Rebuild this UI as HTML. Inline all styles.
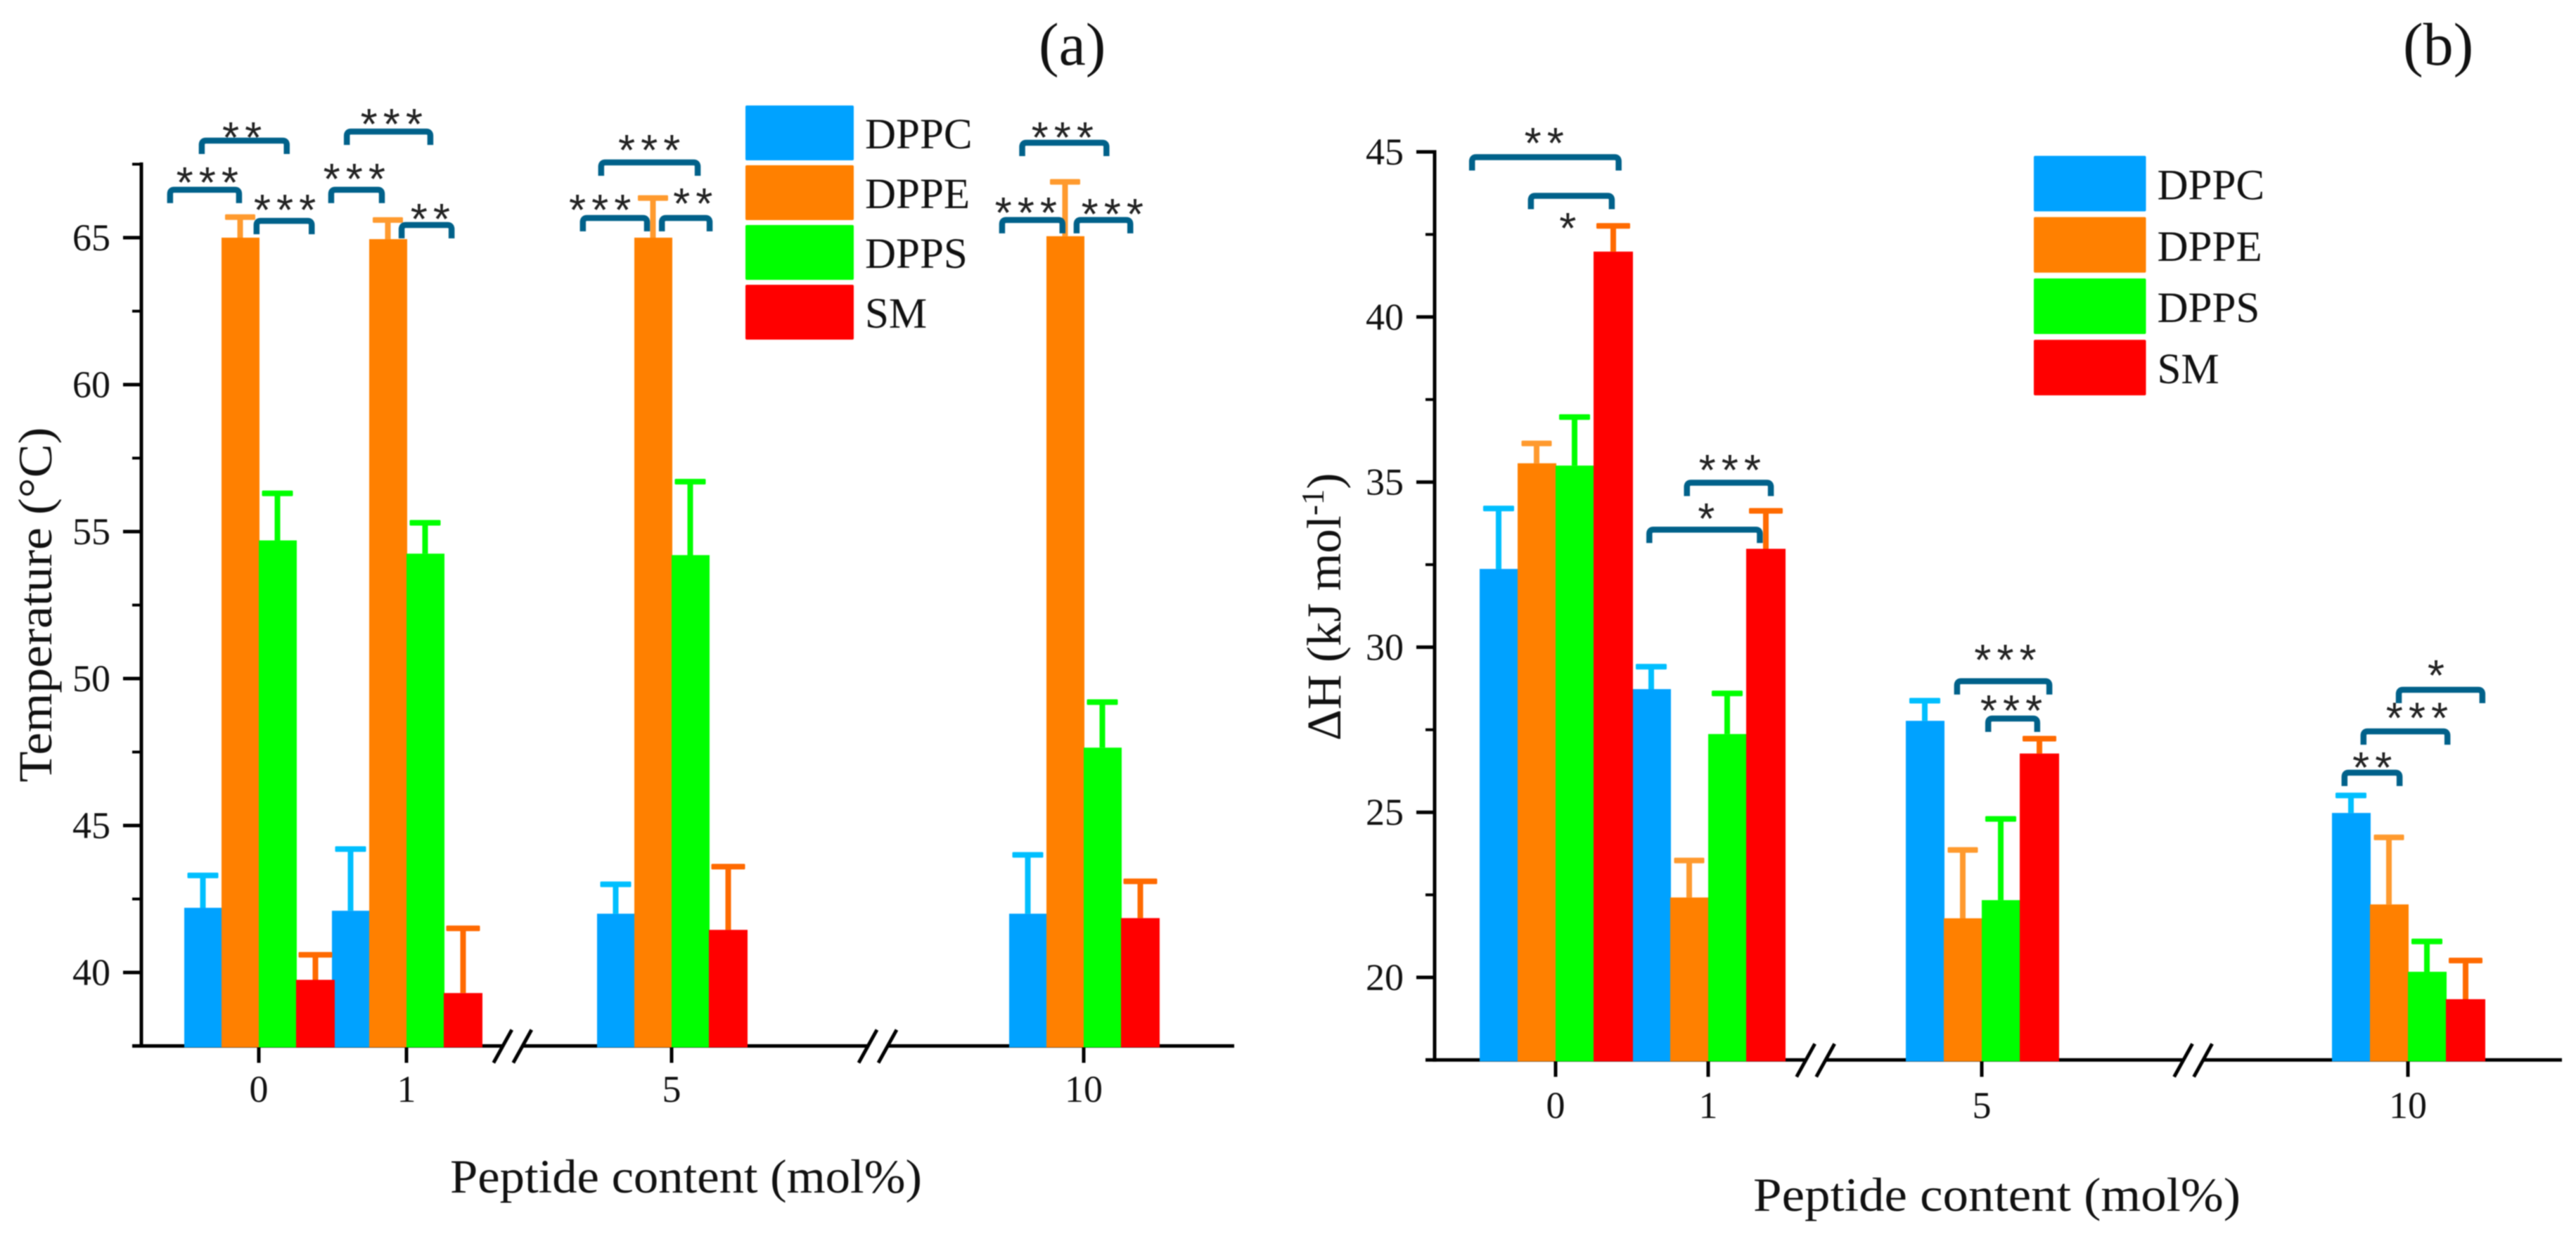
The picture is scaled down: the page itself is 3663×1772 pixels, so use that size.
<!DOCTYPE html>
<html lang="en">
<head>
<meta charset="utf-8">
<title>Transition temperature and enthalpy by peptide content</title>
<style>
  html, body { margin: 0; padding: 0; background: #ffffff; }
  svg { display: block; filter: blur(0.7px); }
  text { font-family: "Liberation Serif", serif; fill: #111111; }
  .star { font-family: "Liberation Sans", sans-serif; fill: #222222; }
</style>
</head>
<body>
<svg id="figure" xmlns="http://www.w3.org/2000/svg" width="3663" height="1772" viewBox="0 0 3663 1772"></svg>
<script>
// ---------- shared categories ----------
const categories = ['0', '1', '5', '10'];
const categoryValues = [0, 1, 5, 10];
const seriesNames = ['DPPC', 'DPPE', 'DPPS', 'SM'];

// ---------- panel (a): temperature ----------
const tempTicks = [40, 45, 50, 55, 60, 65];
const tempMinorTicks = [37.5, 42.5, 47.5, 52.5, 57.5, 62.5, 67.5];
const tempDPPC = [42.2, 42.1, 42.0, 42.0];
const tempDPPCErr = [1.1, 2.1, 1.0, 2.0];
const tempDPPE = [65.0, 64.95, 65.0, 65.05];
const tempDPPEErr = [0.7, 0.65, 1.35, 1.85];
const tempDPPS = [54.7, 54.25, 54.2, 47.65];
const tempDPPSErr = [1.6, 1.05, 2.5, 1.55];
const tempSM = [39.75, 39.3, 41.45, 41.85];
const tempSMErr = [0.85, 2.2, 2.15, 1.25];
// category index, bracket from/to (bar widths from tick), level (deg C), stars, star offset, star level
const tempBrackets = [
  [0, -2.38, -0.53, 66.63, 3, -1.38, 67.08],
  [0, -1.53, 0.75, 68.3, 2, -0.45, 68.61],
  [0, -0.06, 1.42, 65.57, 3, 0.70, 66.15],
  [1, -2.02, -0.66, 66.63, 3, -1.40, 67.2],
  [1, -1.60, 0.64, 68.61, 3, -0.40, 69.07],
  [1, -0.13, 1.21, 65.43, 2, 0.64, 65.84],
  [2, -1.89, 0.70, 67.56, 3, -0.60, 68.18],
  [2, -2.38, -0.66, 65.67, 3, -1.92, 66.15],
  [2, -0.26, 1.02, 65.67, 2, 0.57, 66.36],
  [3, -1.65, 0.61, 68.23, 3, -0.57, 68.61],
  [3, -2.19, -0.57, 65.6, 3, -1.55, 66.05],
  [3, -0.19, 1.25, 65.6, 3, 0.77, 66.0]
];

// ---------- panel (b): enthalpy ----------
const enthTicks = [20, 25, 30, 35, 40, 45];
const enthMinorTicks = [17.5, 22.5, 27.5, 32.5, 37.5, 42.5];
const enthDPPC = [32.37, 28.73, 27.77, 24.98];
const enthDPPCErr = [1.83, 0.68, 0.61, 0.53];
const enthDPPE = [35.57, 22.42, 21.79, 22.21];
const enthDPPEErr = [0.6, 1.12, 2.07, 2.03];
const enthDPPS = [35.5, 27.37, 22.34, 20.17];
const enthDPPSErr = [1.47, 1.23, 2.46, 0.92];
const enthSM = [41.98, 32.98, 26.78, 19.34];
const enthSMErr = [0.78, 1.15, 0.45, 1.17];
const enthBrackets = [
  [0, -2.20, 1.66, 44.84, 2, -0.30, 45.45],
  [0, -0.65, 1.48, 43.67, 1, 0.32, 42.87],
  [1, -0.56, 1.65, 34.98, 3, 0.57, 35.54],
  [1, -1.55, 1.36, 33.56, 1, -0.05, 34.08],
  [2, -0.65, 1.78, 28.97, 3, 0.62, 29.8],
  [2, 0.17, 1.46, 27.84, 3, 0.78, 28.26],
  [3, -1.67, -0.22, 26.2, 2, -0.94, 26.54],
  [3, -1.17, 1.04, 27.45, 3, 0.24, 28.04],
  [3, -0.24, 1.96, 28.71, 1, 0.74, 29.33]
];

// ---------- styles ----------
const barColors = ['#00a2ff', '#ff8000', '#00ff00', '#ff0000'];
const errColors = ['#00bfff', '#ff9a2e', '#00ff00', '#ff6a00'];
const capWidths = [44, 43, 44, 48];
const bracketColor = '#00618a';
const NS = 'http://www.w3.org/2000/svg';
const svg = document.getElementById('figure');

function mk(tag, attrs, parent) {
  const el = document.createElementNS(NS, tag);
  for (const k in attrs) el.setAttribute(k, attrs[k]);
  parent.appendChild(el);
  return el;
}

// Piecewise linear scale for the broken x axis
function makeXScale(rangeStops) {
  return function (v) {
    for (let i = 0; i < categoryValues.length - 1; i++) {
      if (v <= categoryValues[i + 1]) {
        const t = (v - categoryValues[i]) / (categoryValues[i + 1] - categoryValues[i]);
        return rangeStops[i] + t * (rangeStops[i + 1] - rangeStops[i]);
      }
    }
    return rangeStops[rangeStops.length - 1];
  };
}

function drawPanel(p) {
  const g = mk('g', {}, svg);
  
  

  const y = v => p.y0 - (v - p.yRef) * p.yUnit;
  const x = makeXScale(p.xStops);
  const base = y(p.yMin);

  // axes
  const yAxis = mk('line', { x1: p.axisX, x2: p.axisX, y1: y(p.yMax) - 2.5, y2: base + 2.5, stroke: '#000', 'stroke-width': 5 }, g);
  
  

  const xAxis = mk('line', { x1: p.axisX - 13, x2: p.xEnd, y1: base, y2: base, stroke: '#000', 'stroke-width': 5 }, g);
  
  

  // y ticks
  p.ticks.forEach(t => {
    const tick = mk('line', { x1: p.axisX - 26, x2: p.axisX, y1: y(t), y2: y(t), stroke: '#000', 'stroke-width': 5 }, g);
    
    
    const lab = mk('text', { x: p.axisX - 44, y: y(t) + 18, 'text-anchor': 'end', 'font-size': 54 }, g);
    lab.textContent = String(t);
    
    
  });
  p.minorTicks.forEach(t => {
    const tick = mk('line', { x1: p.axisX - 13, x2: p.axisX, y1: y(t), y2: y(t), stroke: '#000', 'stroke-width': 4 }, g);
    
    
  });

  // x ticks and labels
  categories.forEach((c, i) => {
    const cx = x(categoryValues[i]);
    const tick = mk('line', { x1: cx, x2: cx, y1: base, y2: base + 24, stroke: '#000', 'stroke-width': 5 }, g);
    
    
    const lab = mk('text', { x: cx, y: p.xLabelY, 'text-anchor': 'middle', 'font-size': 54 }, g);
    lab.textContent = c;
    
    
  });

  // axis breaks
  p.breaks.forEach(b => {
    const bx = x(b);
    const gap = mk('rect', { x: bx - 14, y: base - 4, width: 28, height: 8, fill: '#fff' }, g);
    
    
    [-1, 1].forEach(side => {
      const s = mk('line', { x1: bx + side * 14 - 13, y1: base + 24, x2: bx + side * 14 + 13, y2: base - 23, stroke: '#000', 'stroke-width': 5 }, g);
      
      
    });
  });

  // bars
  p.series.forEach((vals, si) => {
    vals.forEach((v, ci) => {
      const left = x(categoryValues[ci]) + (si - 2) * p.bw;
      const w = p.bw + (si === 3 ? 2 : 1);
      const top = y(v);
      const bar = mk('rect', { x: left, y: top, width: w, height: base + 2 - top, fill: barColors[si] }, g);
      
      
    });
  });

  // error bars
  p.errors.forEach((errs, si) => {
    errs.forEach((e, ci) => {
      const cx = x(categoryValues[ci]) + (si - 1.5) * p.bw + (si === 3 ? 1 : 0);
      const top = y(p.series[si][ci] + e);
      const stem = mk('line', { x1: cx, x2: cx, y1: y(p.series[si][ci]), y2: top, stroke: errColors[si], 'stroke-width': 8 }, g);
      
      
      const cap = mk('rect', { x: cx - capWidths[si] / 2, y: top - 4, width: capWidths[si], height: 8, rx: 1.5, fill: errColors[si] }, g);
      
      
    });
  });

  // significance brackets
  p.brackets.forEach(br => {
    const cx = x(categoryValues[br[0]]);
    const x1 = cx + br[1] * p.bw;
    const x2 = cx + br[2] * p.bw;
    const yb = y(br[3]);
    const d = 'M' + x1 + ' ' + (yb + 19) + 'V' + (yb + 6) + 'Q' + x1 + ' ' + yb + ' ' + (x1 + 6) + ' ' + yb +
              'H' + (x2 - 6) + 'Q' + x2 + ' ' + yb + ' ' + x2 + ' ' + (yb + 6) + 'V' + (yb + 19);
    const path = mk('path', { d: d, fill: 'none', stroke: bracketColor, 'stroke-width': 8.5 }, g);
    
    
    const st = mk('text', {
      class: 'star', x: cx + br[5] * p.bw + 4, y: y(br[6]) + 30,
      'text-anchor': 'middle', 'font-size': 62, 'letter-spacing': 8
    }, g);
    st.textContent = '*'.repeat(br[4]);
    
    
  });

  // legend
  seriesNames.forEach((name, i) => {
    const sw = mk('rect', { x: p.legendX, y: p.legendY + i * p.legendStep, width: p.legendW, height: p.legendH, rx: 2, fill: barColors[i] }, g);
    
    
    const t = mk('text', { x: p.legendX + p.legendW + 16, y: p.legendY + i * p.legendStep + p.legendBase, 'font-size': 61 }, g);
    t.textContent = name;
    
    
  });

  // x title
  const xt = mk('text', { x: p.xTitleX, y: p.xTitleY, 'font-size': 68, textLength: p.xTitleLen, lengthAdjust: 'spacingAndGlyphs' }, g);
  xt.textContent = 'Peptide content (mol%)';
  
  

  // panel letter
  const pl = mk('text', { x: p.letterX, y: 92, 'font-size': 86 }, g);
  pl.textContent = p.letter;
  
  

  return g;
}

const gA = drawPanel({
  key: 'temperature', letter: '(a)', letterX: 1477,
  yRef: 40, y0: 1383, yUnit: 41.8, yMin: 37.5, yMax: 67.5,
  axisX: 201, xEnd: 1755, xStops: [368, 578, 955, 1541], bw: 53,
  ticks: tempTicks, minorTicks: tempMinorTicks,
  breaks: [2.6, 7.5], xLabelY: 1567,
  series: [tempDPPC, tempDPPE, tempDPPS, tempSM],
  errors: [tempDPPCErr, tempDPPEErr, tempDPPSErr, tempSMErr],
  brackets: tempBrackets,
  legendX: 1060, legendY: 150, legendStep: 85, legendW: 154, legendH: 78, legendBase: 61,
  xTitleX: 640, xTitleY: 1696, xTitleLen: 671
});

const gB = drawPanel({
  key: 'enthalpy', letter: '(b)', letterX: 3417,
  yRef: 20, y0: 1390, yUnit: 46.96, yMin: 17.5, yMax: 45,
  axisX: 2040, xEnd: 3643, xStops: [2212, 2429, 2818, 3424], bw: 54,
  ticks: enthTicks, minorTicks: enthMinorTicks,
  breaks: [2.57, 7.48], xLabelY: 1590,
  series: [enthDPPC, enthDPPE, enthDPPS, enthSM],
  errors: [enthDPPCErr, enthDPPEErr, enthDPPSErr, enthSMErr],
  brackets: enthBrackets,
  legendX: 2892, legendY: 221.6, legendStep: 87.2, legendW: 159.5, legendH: 79, legendBase: 62,
  xTitleX: 2493, xTitleY: 1722, xTitleLen: 693
});

// y axis titles
const yTitleA = mk('text', { transform: 'translate(73 860) rotate(-90)', 'text-anchor': 'middle', 'font-size': 68, textLength: 505, lengthAdjust: 'spacingAndGlyphs' }, gA);
yTitleA.textContent = 'Temperature (°C)';



const yTitleB = mk('text', { transform: 'translate(1906 863) rotate(-90)', 'text-anchor': 'middle', 'font-size': 69 }, gB);


yTitleB.appendChild(document.createTextNode('ΔH (kJ mol'));
const sup = mk('tspan', { dy: -24, 'font-size': 45 }, yTitleB);
sup.textContent = '-1';
const close = mk('tspan', { dy: 24 }, yTitleB);
close.textContent = ')';
</script>
</body>
</html>
